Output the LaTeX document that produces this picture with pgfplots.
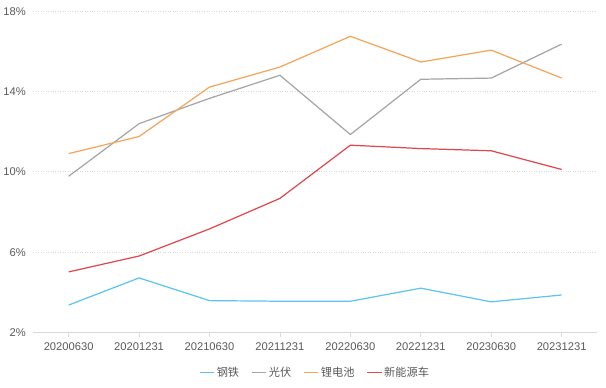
\documentclass[border=0pt]{standalone}
\usepackage{pgfplots}
\pgfplotsset{compat=1.18}
\usepackage{fontspec}
\setmainfont{Liberation Sans}
\newfontfamily\cjk{Noto Sans CJK SC}
\definecolor{cSteel}{HTML}{5BC4F1}
\definecolor{cPV}{HTML}{A5A5A5}
\definecolor{cLi}{HTML}{F4A55A}
\definecolor{cNEV}{HTML}{E0474C}
\definecolor{cTxt}{HTML}{595959}
\definecolor{cGrid}{HTML}{D9D9D9}
\begin{document}
\begin{tikzpicture}
\begin{axis}[
  scale only axis,
  width=554pt, height=316pt,
  xmin=-0.5, xmax=7.5,
  ymin=2, ymax=18,
  xtick={0,...,7},
  xticklabels={20200630,20201231,20210630,20211231,20220630,20221231,20230630,20231231},
  ytick={2,6,10,14,18},
  yticklabel={\pgfmathprintnumber{\tick}\%},
  /pgf/number format/assume math mode=true,
  ticklabel style={font=\fontsize{11}{13}\selectfont, text=cTxt},
  axis x line*=bottom,
  axis y line*=left,
  y axis line style={draw=none},
  x axis line style={cGrid, line width=0.8pt, -},
  xtick style={cGrid, line width=0.8pt},
  tick align=outside,
  major tick length=4pt,
  ymajorgrids,
  ytick style={draw=none},
  grid style={cGrid, dotted, line width=0.8pt},
  xticklabel style={yshift=-2pt},
  legend style={at={(0.5,-0.095)}, anchor=north, draw=none, fill=none,
    legend columns=4, font=\cjk\fontsize{11}{13}\selectfont, text=cTxt,
    /tikz/every even column/.append style={column sep=10pt}},
  legend image code/.code={\draw[#1, line width=1.2pt] (0pt,0pt) -- (14pt,0pt);},
  clip=false,
]
\addplot[cSteel, line width=1.2pt] coordinates {(0,3.37) (1,4.72) (2,3.59) (3,3.56) (4,3.56) (5,4.21) (6,3.53) (7,3.87)};
\addlegendentry{钢铁}
\addplot[cPV, line width=1.2pt] coordinates {(0,9.78) (1,12.40) (2,13.66) (3,14.81) (4,11.86) (5,14.61) (6,14.67) (7,16.36)};
\addlegendentry{光伏}
\addplot[cLi, line width=1.2pt] coordinates {(0,10.91) (1,11.76) (2,14.22) (3,15.22) (4,16.75) (5,15.47) (6,16.06) (7,14.67)};
\addlegendentry{锂电池}
\addplot[cNEV, line width=1.2pt] coordinates {(0,5.02) (1,5.81) (2,7.16) (3,8.68) (4,11.33) (5,11.16) (6,11.05) (7,10.12)};
\addlegendentry{新能源车}
\end{axis}
\path (current axis.north east) ++(9pt,11pt);
\path (current axis.south west) ++(0pt,-54pt);
\end{tikzpicture}
\end{document}
